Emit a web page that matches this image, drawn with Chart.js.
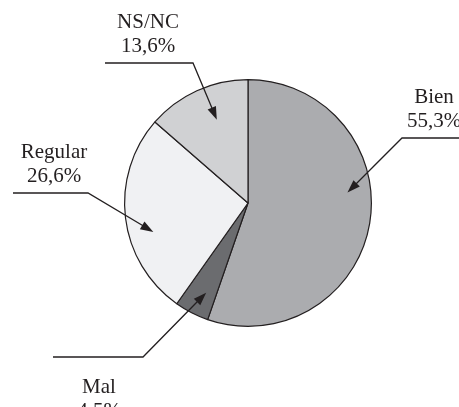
<!DOCTYPE html>
<html>
<head>
<meta charset="utf-8">
<script src="https://cdn.jsdelivr.net/npm/chart.js@4/dist/chart.umd.min.js"></script>
<style>
  html, body { margin: 0; padding: 0; background: #fff; }
  #wrap { width: 459px; height: 407px; }
</style>
</head>
<body>
<div id="wrap"><canvas id="pie"></canvas></div>
<script>
// data
const categories = ['Bien', 'Mal', 'Regular', 'NS/NC'];
const percentValues = [55.3, 4.5, 26.6, 13.6];
const sliceColors = ['#abacaf', '#6b6c6f', '#f0f1f3', '#d0d1d3'];

// callout layout, offsets from the pie centre (px)
const callouts = [
    { tipAngle: -6, tipR: 100, elbow: [154, -65], lineEnd: 215, text: [186, -100] },
    { tipAngle: 115, tipR: 99, elbow: [-105, 154], lineEnd: -195, text: [-149, 190] },
    { tipAngle: 163, tipR: 99, elbow: [-160, -10], lineEnd: -235, text: [-194, -45] },
    { tipAngle: 249.5, tipR: 89, elbow: [-55, -140], lineEnd: -143, text: [-100, -175] }
];

const fmt = v => v.toFixed(1).replace('.', ',') + '%';

const calloutPlugin = {
    id: 'callouts',
    afterDraw(chart) {
        const ctx = chart.ctx;
        const arcs = chart.getDatasetMeta(0).data;
        const cx = arcs[0].x, cy = arcs[0].y;
        ctx.save();
        ctx.strokeStyle = '#231f20';
        ctx.fillStyle = '#231f20';
        ctx.lineWidth = 1.3;
        ctx.font = '21px "Liberation Serif", serif';
        ctx.textAlign = 'center';
        ctx.textBaseline = 'alphabetic';
        callouts.forEach((c, i) => {
            const a = c.tipAngle * Math.PI / 180;
            const tx = cx + Math.cos(a) * c.tipR;
            const ty = cy + Math.sin(a) * c.tipR;
            const ex = cx + c.elbow[0], ey = cy + c.elbow[1];
            ctx.beginPath();
            ctx.moveTo(cx + c.lineEnd, ey);
            ctx.lineTo(ex, ey);
            const ang = Math.atan2(ty - ey, tx - ex);
            const len = 13;
            ctx.lineTo(tx - Math.cos(ang) * (len - 2), ty - Math.sin(ang) * (len - 2));
            ctx.stroke();
            // arrow head
            ctx.beginPath();
            ctx.moveTo(tx, ty);
            ctx.lineTo(tx - Math.cos(ang) * len + Math.sin(ang) * 4.5, ty - Math.sin(ang) * len - Math.cos(ang) * 4.5);
            ctx.lineTo(tx - Math.cos(ang) * len - Math.sin(ang) * 4.5, ty - Math.sin(ang) * len + Math.cos(ang) * 4.5);
            ctx.closePath();
            ctx.fill();
            // label
            const lx = cx + c.text[0], ly = cy + c.text[1];
            ctx.fillText(categories[i], lx, ly);
            ctx.fillText(fmt(percentValues[i]), lx, ly + 24);
        });
        ctx.restore();
    }
};

new Chart(document.getElementById('pie'), {
    type: 'pie',
    data: {
        labels: categories,
        datasets: [{
            data: percentValues,
            backgroundColor: sliceColors,
            borderColor: '#231f20',
            borderWidth: 1.2
        }]
    },
    options: {
        responsive: true,
        maintainAspectRatio: false,
        animation: false,
        layout: { padding: { left: 124, right: 87, top: 79, bottom: 80 } },
        plugins: {
            legend: { display: false },
            tooltip: { enabled: false }
        }
    },
    plugins: [calloutPlugin]
});
</script>
</body>
</html>
